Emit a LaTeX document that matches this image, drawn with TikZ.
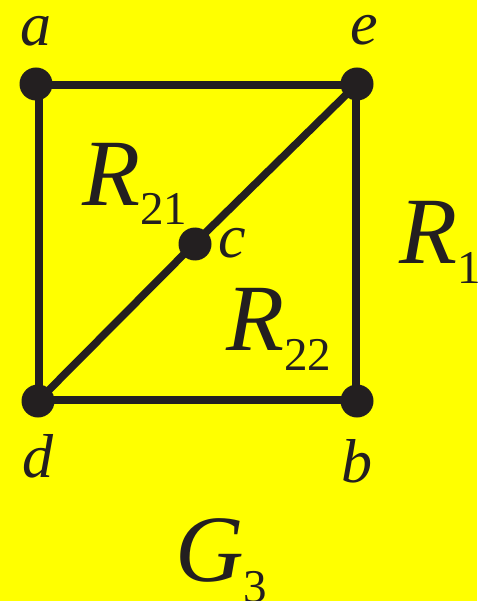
\documentclass[tikz,border=0pt]{standalone}
\usepackage{fontspec}
\setmainfont{Liberation Serif}
\definecolor{bg}{RGB}{255,255,0}
\definecolor{ink}{RGB}{35,31,32}
\tikzset{
  vertex/.style={circle, fill=ink, inner sep=0pt, minimum size=33pt},
  edgeline/.style={draw=ink, line width=7.6pt},
  lbl/.style={text=ink, inner sep=0pt, anchor=base west, font=\fontsize{62}{62}\selectfont\itshape},
  region/.style={text=ink, inner sep=0pt, anchor=base west, font=\fontsize{95}{95}\selectfont\itshape},
}
\newcommand{\mysub}[2]{\raisebox{-#1pt}{\upshape\fontsize{47}{47}\selectfont #2}}
\begin{document}
\begin{tikzpicture}[x=1pt,y=-1pt]
\useasboundingbox (0,0) rectangle (477,601);
\fill[bg] (0,0) rectangle (477,601);
% vertex positions
\coordinate (a) at (39,85);
\coordinate (e) at (356,85);
\coordinate (d) at (39,400);
\coordinate (b) at (356,400);
\coordinate (c) at (195,243);
% edges
\draw[edgeline] (a) -- (e);
\draw[edgeline] (a) -- (d);
\draw[edgeline] (d) -- (b);
\draw[edgeline] (e) -- (b);
\draw[edgeline] (d) -- (c);
\draw[edgeline] (c) -- (e);
% dots
\node[vertex] (va) at (36,84) {};
\node[vertex] (ve) at (357,84) {};
\node[vertex] (vd) at (38,401) {};
\node[vertex] (vb) at (357,401) {};
\node[vertex] (vc) at (195,244) {};
% vertex labels
\node[lbl] (la) at (20,46) {a};
\node[lbl] (le) at (350,45) {e};
\node[lbl] (lc) at (218,257) {c};
\node[lbl] (ld) at (22,477) {d};
\node[lbl] (lb) at (341,482) {b};
% region labels
\node[region] (r21) at (82,206) {R\mysub{19}{21}};
\node[region] (r22) at (226,350) {R\mysub{20}{22}};
\node[region] (r1) at (399,263) {R\mysub{20}{1}};
\node[region] (g3) at (175,581) {G\mysub{21}{3}};
\end{tikzpicture}
\end{document}
